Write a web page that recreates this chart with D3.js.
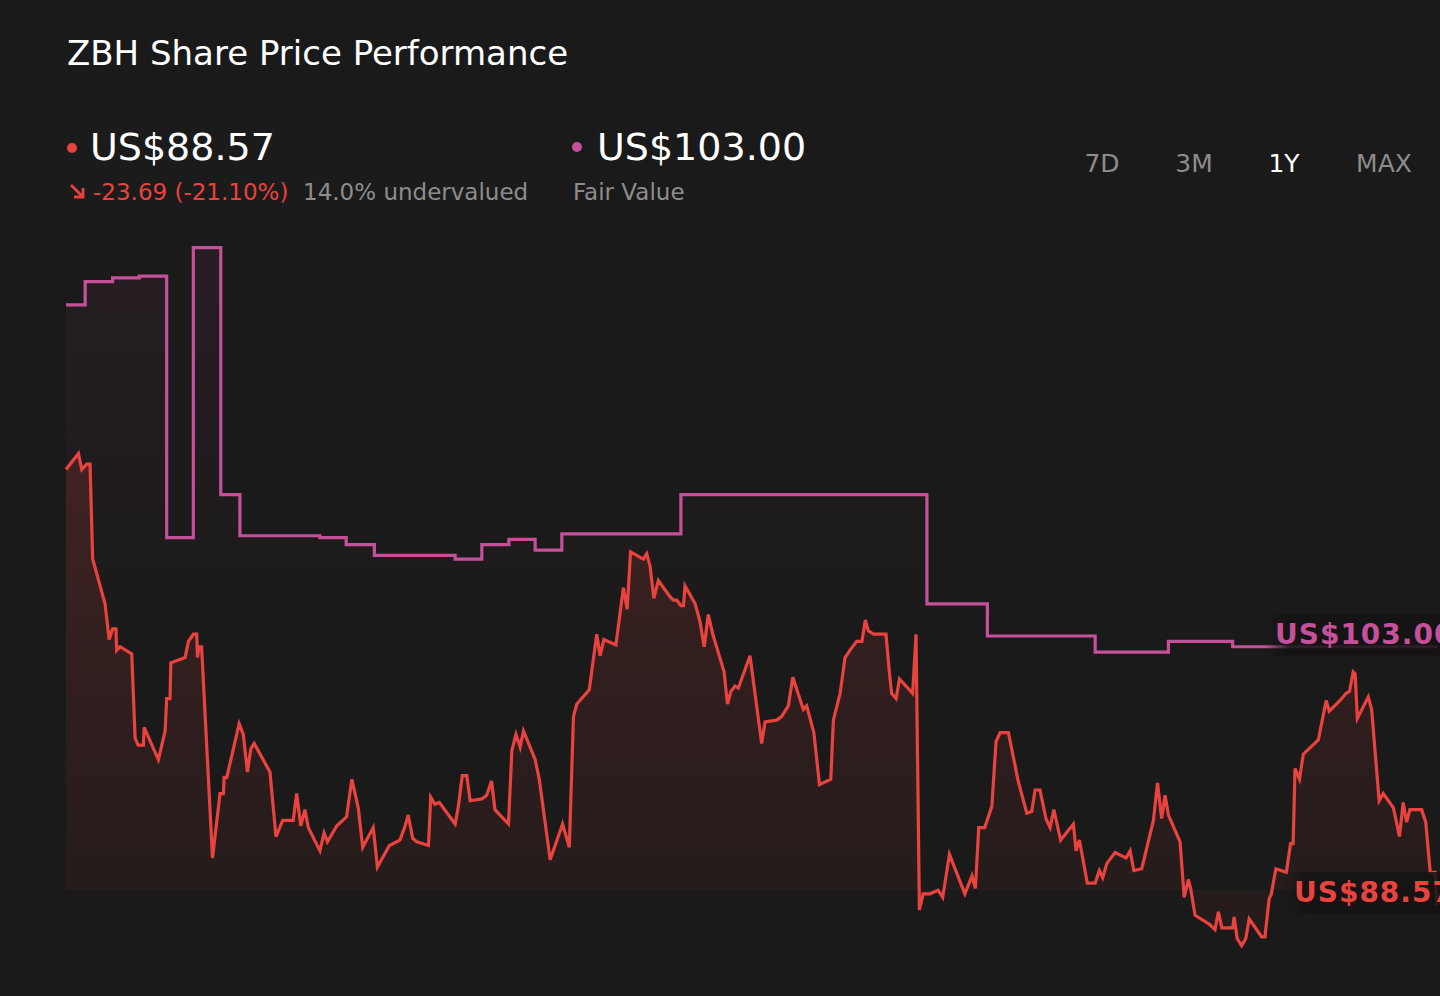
<!DOCTYPE html>
<html>
<head>
<meta charset="utf-8">
<script src="https://cdn.jsdelivr.net/npm/d3@7"></script>
<style>
  html, body { margin: 0; padding: 0; background: #1b1a1a; }
  svg { display: block; }
</style>
</head>
<body>
<svg id="chart" width="1440" height="996"></svg>
<script>
// ---- data ----
const startDate = new Date(2024, 9, 17);   // 1Y window start
const lastPrice = 88.57;
const fairValue = 103.00;
const ranges = ["7D", "3M", "1Y", "MAX"];
const activeRange = "1Y";

// fair value estimate (step changes), days from startDate
const fvDays = [0, 5.1, 12.4, 19.5, 26.8, 33.9, 41.2, 46.3, 67.6, 74.6, 82.1,
  103.6, 110.7, 117.9, 124.9, 132.0, 163.7, 229.2, 245.3, 274.0, 293.5, 310.6, 365];
const fvValues = [122.1, 123.4, 123.6, 123.7, 109.1, 125.3, 111.5, 109.2, 109.1, 108.7, 108.1,
  107.9, 108.7, 109.0, 108.4, 109.3, 111.5, 105.4, 103.6, 102.7, 103.3, 103.0, 103.0];

// share price, days from startDate
const priceDays = [
  0, 3.3, 4.2, 5.5, 6.4, 7.1, 10.4, 11.5, 12.4, 13.3,
  13.5, 14.4, 17.5, 18.4, 19.2, 20.6, 20.8, 24.6, 26.4, 26.8,
  27.7, 27.9, 31.7, 32.6, 33.9, 34.8, 35.0, 35.4, 36.1, 39.0,
  41.0, 41.9, 42.1, 42.8, 46.1, 47.2, 48.3, 49.2, 50.1, 54.3,
  55.9, 57.7, 60.5, 61.4, 62.5, 63.6, 64.5, 67.6, 68.7, 69.6,
  72.1, 74.7, 76.1, 77.8, 79.0, 81.8, 82.9, 86.1, 88.9, 90.3,
  91.1, 92.3, 93.4, 96.5, 97.1, 98.2, 99.4, 103.6, 104.4, 105.5,
  106.7, 107.6, 110.7, 112.0, 113.3, 114.2, 117.8, 118.7, 119.8, 120.9,
  121.8, 124.9, 126.0, 128.9, 132.2, 134.0, 135.1, 136.0, 139.3, 141.3,
  142.2, 143.2, 146.4, 148.4, 149.4, 150.3, 153.7, 154.6, 155.5, 156.5,
  157.7, 160.8, 161.7, 162.6, 163.7, 164.4, 164.8, 167.5, 168.8, 169.9,
  171.0, 172.2, 175.2, 176.1, 177.0, 178.1, 179.0, 182.1, 185.2, 186.1,
  189.2, 190.5, 192.3, 193.5, 196.3, 197.2, 199.1, 200.6, 203.6, 204.3,
  206.1, 207.4, 208.7, 210.5, 211.9, 212.8, 213.6, 215.0, 218.3, 219.2,
  219.8, 221.0, 221.9, 225.4, 226.3, 227.2, 228.2, 230.0, 232.2, 233.4,
  235.2, 239.3, 241.2, 242.1, 243.0, 244.6, 246.5, 247.6, 248.7, 250.9,
  253.5, 254.4, 255.8, 257.1, 258.0, 259.3, 260.9, 262.0, 263.0, 264.8,
  268.2, 268.9, 269.8, 271.9, 274.0, 275.1, 276.0, 277.1, 279.3, 282.2,
  283.3, 284.3, 286.4, 289.5, 290.6, 291.7, 292.6, 293.5, 296.6, 297.7,
  298.8, 299.4, 300.6, 304.4, 305.9, 306.8, 307.7, 310.6, 311.0, 311.8,
  313.0, 314.1, 315.0, 318.3, 319.2, 320.3, 320.9, 322.1, 324.9, 326.0,
  326.7, 327.2, 328.4, 329.4, 333.4, 335.5, 336.3, 339.2, 340.8, 341.7,
  342.7, 343.2, 343.8, 346.7, 347.6, 349.6, 350.7, 353.4, 355.0, 356.0,
  356.9, 357.8, 360.9, 362.0, 363.2, 364.5, 365
];
const priceValues = [
  112.9, 113.8, 112.9, 113.2, 113.2, 107.9, 105.4, 103.4, 104.0, 104.0,
  102.8, 103.0, 102.6, 97.9, 97.5, 97.5, 98.5, 96.7, 98.3, 100.1,
  100.1, 102.1, 102.4, 103.3, 103.7, 103.7, 102.4, 103.0, 103.0, 91.2,
  94.8, 94.8, 95.7, 95.7, 98.7, 98.1, 96.0, 97.3, 97.6, 96.0,
  92.4, 93.3, 93.3, 94.8, 93.0, 93.9, 92.9, 91.6, 92.6, 92.1,
  93.0, 93.5, 95.6, 94.0, 91.8, 92.9, 90.7, 91.9, 92.2, 93.0,
  93.6, 92.3, 92.1, 91.9, 94.6, 94.2, 94.3, 93.1, 94.0, 95.8,
  95.8, 94.4, 94.5, 94.7, 95.5, 93.9, 93.1, 97.2, 98.1, 97.4,
  98.3, 96.7, 95.6, 91.1, 93.1, 91.8, 99.1, 99.8, 100.6, 103.7,
  102.5, 103.4, 103.1, 106.3, 105.1, 108.3, 107.9, 108.2, 107.5, 105.7,
  106.7, 105.8, 105.6, 105.6, 105.3, 105.3, 106.4, 105.4, 104.4, 103.0,
  104.8, 103.7, 101.6, 99.8, 100.5, 100.8, 100.7, 102.5, 97.6, 98.8,
  98.9, 99.1, 99.7, 101.3, 99.5, 99.7, 98.2, 95.3, 95.6, 98.9,
  100.4, 102.4, 102.8, 103.3, 103.3, 104.5, 103.9, 103.7, 103.7, 101.6,
  100.4, 100.1, 101.2, 100.4, 103.7, 88.3, 89.2, 89.2, 89.4, 89.0,
  91.4, 89.2, 90.2, 89.5, 92.9, 92.9, 94.1, 97.7, 98.2, 98.2,
  95.5, 94.8, 93.7, 93.8, 95.0, 95.0, 93.4, 92.9, 93.9, 92.2,
  93.1, 91.6, 92.2, 89.8, 89.8, 90.5, 90.1, 90.9, 91.5, 91.2,
  91.6, 90.5, 90.6, 93.3, 95.4, 93.4, 94.7, 93.6, 92.1, 89.0,
  90.0, 89.5, 88.0, 87.5, 87.2, 88.2, 87.3, 87.3, 87.9, 86.7,
  86.3, 86.7, 87.8, 86.8, 86.8, 88.9, 89.2, 90.6, 90.4, 92.0,
  92.0, 96.2, 95.6, 97.0, 97.8, 100.0, 99.4, 100.0, 100.4, 100.5,
  101.6, 101.5, 99.0, 100.2, 99.5, 94.4, 94.8, 94.0, 92.4, 94.3,
  93.2, 93.9, 93.9, 93.2, 90.4, 90.4, 88.57
];

// ---- layout ----
const W = 1440, H = 996;
const plotLeft = 66, plotRight = 1437;
const areaBottom = 890;
const bg = "#1b1a1a";
const red = "#e8433f";
const pink = "#c4519a";
const grey = "#8d8d8d";
const font = "'DejaVu Sans', Verdana, sans-serif";
const btnCenters = [1102, 1194, 1284, 1384];

const toDate = d => new Date(+startDate + d * 864e5);
const price = priceDays.map((d, i) => ({ date: toDate(d), value: priceValues[i] }));
const fv = fvDays.map((d, i) => ({ date: toDate(d), value: fvValues[i] }));

const x = d3.scaleTime()
  .domain([startDate, toDate(365)])
  .range([plotLeft, plotRight]);
const y = d3.scaleLinear()
  .domain([85, 126])
  .range([969, 235]);

const svg = d3.select("#chart");
svg.append("rect").attr("width", W).attr("height", H).attr("fill", bg);

const defs = svg.append("defs");
const gPrice = defs.append("linearGradient")
  .attr("id", "gPrice").attr("gradientUnits", "userSpaceOnUse")
  .attr("x1", 0).attr("x2", 0).attr("y1", 440).attr("y2", areaBottom);
gPrice.append("stop").attr("offset", 0).attr("stop-color", red).attr("stop-opacity", 0.17);
gPrice.append("stop").attr("offset", 1).attr("stop-color", red).attr("stop-opacity", 0.05);

const gFv = defs.append("linearGradient")
  .attr("id", "gFv").attr("gradientUnits", "userSpaceOnUse")
  .attr("x1", 0).attr("x2", 0).attr("y1", 240).attr("y2", 640);
gFv.append("stop").attr("offset", 0).attr("stop-color", pink).attr("stop-opacity", 0.07);
gFv.append("stop").attr("offset", 1).attr("stop-color", pink).attr("stop-opacity", 0.0);

const gBoxFade = defs.append("linearGradient").attr("id", "gBoxFade");
gBoxFade.append("stop").attr("offset", 0).attr("stop-color", "#141212").attr("stop-opacity", 0.0);
gBoxFade.append("stop").attr("offset", 0.12).attr("stop-color", "#141212").attr("stop-opacity", 0.85);
gBoxFade.append("stop").attr("offset", 1).attr("stop-color", "#141212").attr("stop-opacity", 0.85);

// faint panel behind the header
svg.append("rect")
  .attr("x", 63).attr("y", 117).attr("width", 500).attr("height", 100)
  .attr("fill", "#ffffff").attr("opacity", 0.008);

// ---- title / header ----
svg.append("text")
  .attr("x", 67).attr("y", 65)
  .attr("font-family", font).attr("font-size", 34).attr("fill", "#ffffff")
  .text("ZBH Share Price Performance");

const hdr = svg.append("g").attr("font-family", font);
hdr.append("circle").attr("cx", 72).attr("cy", 148).attr("r", 5).attr("fill", red);
hdr.append("text").attr("x", 90).attr("y", 160)
  .attr("font-size", 38).attr("fill", "#ffffff").text("US$" + lastPrice.toFixed(2));

// down-right arrow
hdr.append("path")
  .attr("d", "M71,185 L83,197 M74,197 L83,197 L83,188")
  .attr("fill", "none").attr("stroke", red).attr("stroke-width", 2.8)
  .attr("stroke-linecap", "butt");
hdr.append("text").attr("x", 93).attr("y", 200)
  .attr("font-size", 23).attr("fill", red).text("-23.69 (-21.10%)");
hdr.append("text").attr("x", 303).attr("y", 200)
  .attr("font-size", 23).attr("fill", grey).text("14.0% undervalued");

hdr.append("circle").attr("cx", 577).attr("cy", 147).attr("r", 5).attr("fill", pink);
hdr.append("text").attr("x", 597).attr("y", 160)
  .attr("font-size", 38).attr("fill", "#ffffff").text("US$" + fairValue.toFixed(2));
hdr.append("text").attr("x", 573).attr("y", 200)
  .attr("font-size", 23).attr("fill", grey).text("Fair Value");

// range buttons
svg.append("g").selectAll("text")
  .data(ranges)
  .join("text")
  .attr("x", (d, i) => btnCenters[i]).attr("y", 172)
  .attr("text-anchor", "middle")
  .attr("font-family", font).attr("font-size", 25)
  .attr("fill", d => d === activeRange ? "#ffffff" : grey)
  .text(d => d);

// ---- areas ----
svg.append("path")
  .datum(fv)
  .attr("d", d3.area().curve(d3.curveStepAfter)
    .x(d => x(d.date)).y0(areaBottom).y1(d => y(d.value)))
  .attr("fill", "url(#gFv)");

svg.append("path")
  .datum(price)
  .attr("d", d3.area()
    .x(d => x(d.date)).y0(areaBottom).y1(d => y(d.value)))
  .attr("fill", "url(#gPrice)");

// ---- lines ----
svg.append("path")
  .datum(fv)
  .attr("d", d3.line().curve(d3.curveStepAfter)
    .x(d => x(d.date)).y(d => y(d.value)))
  .attr("fill", "none").attr("stroke", pink).attr("stroke-width", 3.2);

svg.append("path")
  .datum(price)
  .attr("d", d3.line().x(d => x(d.date)).y(d => y(d.value)))
  .attr("fill", "none").attr("stroke", red).attr("stroke-width", 3.2)
  .attr("stroke-linejoin", "miter");

// ---- end labels ----
const endLabels = [
  { text: "US$" + fairValue.toFixed(2), value: fairValue, x0: 1265, color: pink },
  { text: "US$" + lastPrice.toFixed(2), value: lastPrice, x0: 1284, color: red }
];
const lab = svg.append("g").selectAll("g")
  .data(endLabels)
  .join("g")
  .attr("transform", d => `translate(${d.x0},${y(d.value) - 33})`);
lab.append("rect")
  .attr("width", 200).attr("height", 42).attr("rx", 3)
  .attr("fill", "url(#gBoxFade)");
lab.append("text")
  .attr("x", 10).attr("y", 30)
  .attr("font-family", font).attr("font-weight", "bold")
  .attr("font-size", 28).attr("letter-spacing", 1)
  .attr("fill", d => d.color)
  .text(d => d.text);
</script>
</body>
</html>
